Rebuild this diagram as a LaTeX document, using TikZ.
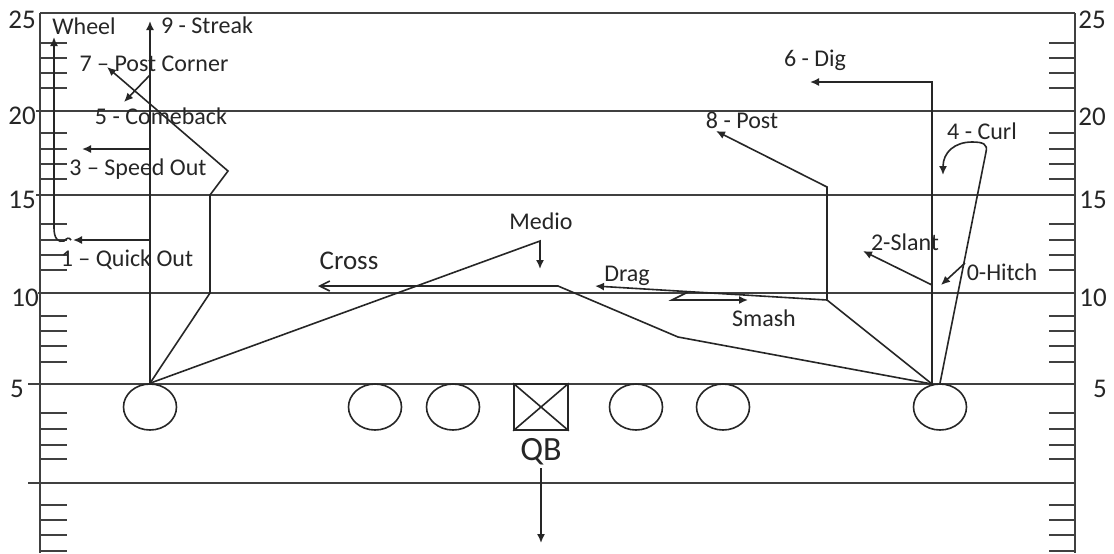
\documentclass[tikz,border=0pt]{standalone}
\usepackage{fontspec}
\setmainfont{Carlito}
\usetikzlibrary{arrows.meta,shapes.geometric}
\begin{document}
\begin{tikzpicture}[x=0.5pt,y=-0.5pt,
  field/.style={line width=0.75pt, draw=black!75},
  leg/.style={line width=0.8pt, draw=black!85},
  route/.style={leg, -{Latex[length=4.5pt,width=4pt]}},
  crossroute/.style={leg, -{Straight Barb[length=5pt,width=5pt]}},
  lbl/.style={font=\fontsize{12}{14}\selectfont, inner sep=0, text=black!85},
  yard/.style={font=\fontsize{13.5}{15}\selectfont, inner sep=0, text=black!85},
  player/.style={ellipse, leg, draw, minimum width=26.5pt, minimum height=23pt, inner sep=0},
  qbox/.style={rectangle, leg, draw, minimum width=27pt, minimum height=23pt, inner sep=0}
]
\useasboundingbox[fill=white] (0,0) rectangle (1114,553);

% sidelines and yard lines
\draw[field] (40,13) -- (40,553);
\draw[field] (1075,13) -- (1075,553);
\draw[field] (40,13) -- (1075,13);
\foreach \y/\x in {111/36, 195/36, 293/38, 384/28, 483/28}
  \draw[field] (\x,\y) -- (1075,\y);

% hash marks on both sidelines
\foreach \y in {43,58,73,88, 133,149,164,179, 224,240,255,270,
                316,331,346,362, 413,429,445,459, 505,520,535,551} {
  \draw[field] (40,\y) -- (67,\y);
  \draw[field] (1049,\y) -- (1075,\y);
}

% yard numbers
\node[yard] (l25) at (22,20) {25};
\node[yard] (l20) at (22,116) {20};
\node[yard] (l15) at (22,200) {15};
\node[yard] (l10) at (25,298) {10};
\node[yard] (l5) at (17,389) {5};
\node[yard] (r25) at (1092,20) {25};
\node[yard] (r20) at (1092,117) {20};
\node[yard] (r15) at (1093,200) {15};
\node[yard] (r10) at (1093,298) {10};
\node[yard] (r5) at (1100,389) {5};

% formation
\node[player] (lwr) at (150,407) {};
\node[player] (lg1) at (375,407) {};
\node[player] (lg2) at (453,407) {};
\node[qbox] (qb) at (541,407) {};
\draw[leg] (qb.north west) -- (qb.south east) (qb.south west) -- (qb.north east);
\node[player] (rg1) at (636,407) {};
\node[player] (rg2) at (723,407) {};
\node[player] (rwr) at (940,407) {};
\node[font=\fontsize{17}{19}\selectfont, inner sep=0, text=black!85] (qbl) at (541,452) {QB};
\coordinate (qbs) at (541,468);
\coordinate (qbe) at (541,543);
\draw[route] (qbs) -- (qbe);

% left receiver route tree
\coordinate (ls) at (lwr.north);
\coordinate (streak) at (150,21);
\coordinate (cbk) at (150,75);
\coordinate (spd) at (150,149);
\coordinate (qko) at (150,240);
\draw[route] (ls) -- (streak);
\draw[route] (spd) -- (82,149);
\draw[route] (qko) -- (73,240);
\draw[route] (cbk) -- (124,102);
\draw[route] (ls) -- (210,293) -- (210,195) -- (228,171) -- (107,67);
\draw[route] (ls) -- (540,241) -- (540,269);
\coordinate (whl) at (71,240);
\draw[route] (whl) .. controls (69,237) and (67,238) .. (64,241)
  .. controls (58,243) and (54,238) .. (54,228) -- (54,37);

% right receiver route tree
\coordinate (rs) at (932,384);
\coordinate (slot) at (827,300);
\draw[route] (rs) -- (932,82) -- (810,82);
\draw[route] (932,285) -- (863,251);
\draw[route] (rwr.north) -- (986,152) .. controls (988,144) and (983,142) .. (972,142)
  .. controls (955,142) and (943,152) .. (943,175);
\draw[route] (965,263) -- (941,285);
\draw[route] (rs) -- (slot) -- (827,187) -- (716,131);
\draw[route] (slot) -- (595,286);
\draw[route] (688,292) -- (672,300) -- (748,300);
\draw[crossroute] (rs) -- (678,337) -- (558,286) -- (318,286);

% route names
\node[lbl] (wheel) at (84,26) {Wheel};
\node[lbl] (n9) at (207,25) {9 - Streak};
\node[lbl] (n7) at (154,64) {7 – Post Corner};
\node[lbl] (n5) at (161,116) {5 - Comeback};
\node[lbl] (n3) at (138,169) {3 – Speed Out};
\node[lbl] (n1) at (127,260) {1 – Quick Out};
\node[lbl, font=\fontsize{13.5}{15}\selectfont] (cross) at (349,261) {Cross};
\node[lbl] (medio) at (541,221) {Medio};
\node[lbl] (drag) at (627,276) {Drag};
\node[lbl] (smash) at (764,318) {Smash};
\node[lbl] (n8) at (742,120) {8 - Post};
\node[lbl] (n6) at (815,60) {6 - Dig};
\node[lbl] (n4) at (982,131) {4 - Curl};
\node[lbl] (n2) at (905,242) {2-Slant};
\node[lbl] (n0) at (1002,272) {0-Hitch};
\end{tikzpicture}
\end{document}
